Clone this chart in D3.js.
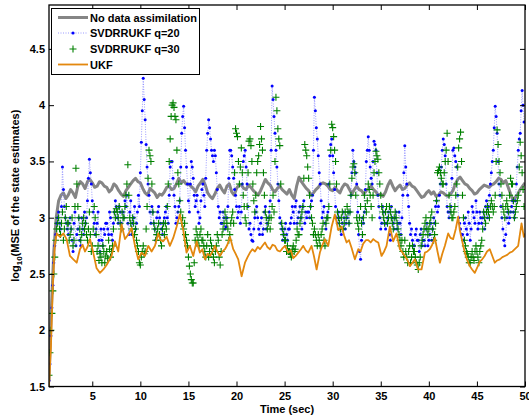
<!DOCTYPE html>
<html>
<head>
<meta charset="utf-8">
<script src="https://cdn.jsdelivr.net/npm/d3@7"></script>
<style>
  body { margin: 0; background: #fff; }
  svg { display: block; font-family: "Liberation Sans", Arial, sans-serif; font-weight: bold; }
</style>
</head>
<body>
<svg id="chart" width="529" height="417"></svg>
<script>
// values
var xTicks = [5, 10, 15, 20, 25, 30, 35, 40, 45, 50];
var yTicks = [1.5, 2, 2.5, 3, 3.5, 4, 4.5];
var seriesNames = ["No data assimilation", "SVDRRUKF q=20", "SVDRRUKF q=30", "UKF"];

// no data assimilation, every 0.25 s from t=0.5
var noAssim = [
  1.55, 2.2, 2.7, 3.0, 3.15, 3.2, 3.22, 3.17, 3.2, 3.25, 3.22, 3.18, 3.28, 3.32, 3.3, 3.26,
  3.32, 3.34, 3.31, 3.27, 3.28, 3.32, 3.31, 3.28, 3.27, 3.23, 3.25, 3.3, 3.28, 3.24, 3.21, 3.19,
  3.24, 3.27, 3.3, 3.33, 3.35, 3.32, 3.31, 3.26, 3.22, 3.2, 3.26, 3.24, 3.22, 3.18, 3.21, 3.2,
  3.23, 3.27, 3.28, 3.25, 3.26, 3.3, 3.35, 3.31, 3.33, 3.3, 3.3, 3.28, 3.26, 3.23, 3.28, 3.31,
  3.34, 3.29, 3.22, 3.19, 3.17, 3.21, 3.26, 3.29, 3.25, 3.22, 3.28, 3.3, 3.23, 3.2, 3.26, 3.29,
  3.29, 3.26, 3.25, 3.29, 3.27, 3.24, 3.22, 3.2, 3.24, 3.29, 3.34, 3.31, 3.29, 3.25, 3.23, 3.26,
  3.28, 3.25, 3.23, 3.21, 3.25, 3.2, 3.17, 3.28, 3.36, 3.32, 3.29, 3.26, 3.24, 3.2, 3.22, 3.25,
  3.27, 3.3, 3.31, 3.3, 3.28, 3.25, 3.24, 3.27, 3.24, 3.22, 3.27, 3.3, 3.29, 3.25, 3.21, 3.25,
  3.28, 3.25, 3.24, 3.21, 3.24, 3.26, 3.28, 3.25, 3.23, 3.2, 3.21, 3.19, 3.23, 3.29, 3.33, 3.28,
  3.24, 3.27, 3.29, 3.25, 3.26, 3.29, 3.31, 3.28, 3.27, 3.24, 3.21, 3.18, 3.19, 3.22, 3.24, 3.21,
  3.23, 3.19, 3.2, 3.23, 3.22, 3.2, 3.19, 3.21, 3.24, 3.3, 3.34, 3.36, 3.33, 3.3, 3.29, 3.26,
  3.24, 3.21, 3.22, 3.25, 3.27, 3.29, 3.28, 3.27, 3.29, 3.3, 3.32, 3.35, 3.34, 3.31, 3.33, 3.27,
  3.21, 3.16, 3.18, 3.21, 3.25, 3.28, 3.31
];

// SVDRRUKF q=20, every 0.1 s from t=0.5
var q20 = [
  1.55, 1.7, 1.95, 2.2, 2.4, 2.6, 2.75, 2.85, 2.95, 3.0,
  3.05, 2.95, 2.9, 3.1, 3.45, 3.25, 3.1, 3.0, 2.95, 2.9,
  2.85, 2.95, 3.0, 2.9, 2.8, 2.7, 2.95, 3.05, 2.75, 2.85,
  2.9, 3.0, 2.8, 2.75, 3.0, 2.9, 2.85, 3.05, 2.95, 3.0,
  3.15, 3.35, 3.52, 3.4, 3.3, 3.15, 3.05, 2.95, 2.85, 2.9,
  2.95, 3.05, 2.8, 2.7, 2.9, 2.8, 2.75, 2.9, 2.85, 2.95,
  2.95, 2.9, 2.85, 3.05, 3.0, 2.85, 2.8, 2.95, 3.05, 3.15,
  3.1, 3.0, 2.95, 3.1, 3.05, 2.95, 2.9, 3.05, 3.0, 3.15,
  3.1, 3.2, 2.95, 2.85, 3.05, 3.15, 2.85, 2.95, 3.0, 3.1,
  2.9, 2.95, 3.05, 3.2, 3.1, 3.4, 3.67, 3.95, 4.24, 4.05,
  3.87, 3.65, 3.45, 3.3, 3.2, 3.05, 2.95, 3.1, 3.05, 2.95,
  2.9, 2.8, 3.0, 3.05, 3.1, 3.0, 2.95, 2.9, 2.85, 2.95,
  3.0, 3.05, 3.1, 3.0, 2.95, 3.2, 3.45, 3.5, 3.5, 3.35,
  3.2, 3.1, 2.95, 3.0, 3.05, 3.1, 3.15, 3.45, 3.75, 3.9,
  3.99, 3.8, 3.6, 3.45, 3.3, 3.15, 3.05, 3.3, 3.5, 3.45,
  3.35, 3.2, 3.1, 3.15, 3.2, 3.05, 2.95, 3.0, 3.15, 3.25,
  3.3, 3.2, 3.1, 3.35, 3.6, 3.75, 3.87, 3.8, 3.7, 3.6,
  3.55, 3.5, 3.6, 3.55, 3.4, 3.25, 3.1, 3.0, 3.05, 2.95,
  2.95, 3.05, 3.0, 2.9, 2.92, 3.0, 3.1, 3.35, 3.6, 3.6,
  3.55, 3.45, 3.35, 3.25, 3.2, 3.1, 3.0, 3.05, 3.1, 2.95,
  3.05, 3.3, 3.5, 3.55, 3.6, 3.45, 3.3, 3.1, 2.9, 2.95,
  2.85, 2.8, 2.79, 2.9, 3.0, 3.05, 3.1, 3.0, 2.9, 2.85,
  2.95, 3.0, 2.85, 2.9, 3.05, 3.1, 2.9, 2.95, 3.0, 3.05,
  3.15, 3.6, 4.17, 4.05, 3.9, 3.75, 3.6, 3.45, 3.3, 3.15,
  3.0, 2.95, 2.9, 2.8, 2.85, 2.9, 2.95, 2.85, 2.8, 2.9,
  2.9, 2.95, 3.0, 3.1, 3.05, 2.95, 3.1, 3.15, 2.95, 3.0,
  3.05, 3.1, 3.0, 2.9, 3.1, 3.15, 2.95, 3.05, 3.0, 3.05,
  3.05, 3.0, 3.1, 3.15, 3.2, 3.6, 4.07, 3.95, 3.8, 3.7,
  3.55, 3.4, 3.3, 3.15, 3.0, 3.05, 3.1, 2.95, 2.9, 3.0,
  3.05, 3.3, 3.55, 3.65, 3.7, 3.55, 3.4, 3.25, 3.1, 3.0,
  2.95, 3.05, 3.0, 2.9, 2.85, 2.95, 3.05, 3.0, 2.9, 2.95,
  3.0, 3.05, 2.95, 3.05, 3.2, 3.4, 3.6, 3.5, 3.45, 3.4,
  3.3, 3.05, 2.85, 2.7, 2.63, 2.8, 3.0, 2.95, 3.05, 3.25,
  3.5, 3.6, 3.72, 3.6, 3.45, 3.35, 3.3, 3.5, 3.68, 3.65,
  3.6, 3.4, 3.2, 3.1, 3.0, 2.9, 2.95, 3.1, 3.05, 2.95,
  2.9, 2.95, 3.0, 3.05, 2.85, 2.8, 3.1, 3.0, 2.95, 2.9,
  3.0, 3.05, 2.9, 2.95, 3.05, 2.95, 2.85, 3.0, 3.2, 3.4,
  3.64, 3.45, 3.3, 3.2, 3.1, 2.95, 2.85, 2.9, 2.8, 2.75,
  2.75, 2.85, 2.9, 2.8, 2.8, 2.7, 2.85, 2.9, 2.75, 2.8,
  2.8, 2.75, 2.9, 2.95, 2.75, 2.8, 2.85, 2.95, 2.8, 2.9,
  3.0, 2.95, 3.1, 3.15, 3.05, 3.1, 3.2, 3.3, 3.45, 3.6,
  3.7, 3.65, 3.55, 3.3, 3.1, 3.05, 3.0, 3.05, 3.1, 3.35,
  3.6, 3.62, 3.55, 3.5, 3.45, 3.2, 3.0, 2.95, 2.9, 2.85,
  2.85, 2.8, 2.95, 3.0, 2.9, 2.85, 3.05, 2.95, 2.8, 2.9,
  3.1, 3.05, 3.0, 2.95, 3.15, 3.05, 2.9, 2.95, 3.05, 3.0,
  2.95, 3.0, 3.05, 2.9, 3.1, 3.15, 3.0, 3.1, 3.2, 3.3,
  3.4, 3.5, 3.6, 3.8, 3.99, 3.9, 3.75, 3.5, 3.3, 3.2,
  3.1, 3.0, 2.9, 2.8, 2.75, 2.85, 3.0, 3.05, 2.95, 3.0,
  3.05, 3.1, 3.15, 3.05, 3.0, 3.15, 3.3, 3.45, 3.6, 3.7,
  3.75, 3.95, 4.13, 4.0, 3.85
];

// SVDRRUKF q=30, every 0.1 s from t=0.5
var q30 = [
  1.6, 1.8, 2.0, 2.15, 2.35, 2.5, 2.65, 2.8, 2.9, 2.95,
  3.0, 2.9, 2.85, 2.95, 3.05, 2.8, 2.9, 3.0, 3.1, 2.95,
  2.95, 2.8, 2.85, 2.9, 3.0, 2.75, 2.8, 3.1, 3.44, 3.3,
  3.1, 3.0, 2.9, 2.8, 2.85, 2.95, 3.0, 2.9, 2.95, 2.85,
  2.8, 2.9, 3.05, 2.85, 2.7, 2.75, 2.9, 3.1, 3.0, 2.85,
  2.7, 2.75, 2.62, 2.68, 2.65, 2.6, 2.75, 2.7, 2.6, 2.66,
  2.7, 2.64, 2.8, 2.72, 2.65, 2.7, 2.75, 2.9, 3.05, 3.0,
  3.08, 3.05, 3.0, 3.1, 2.95, 2.9, 3.05, 3.0, 3.0, 3.1,
  3.2, 3.3, 3.47, 3.2, 3.0, 2.95, 2.9, 3.0, 2.95, 2.85,
  2.9, 2.8, 2.75, 2.7, 2.6, 2.58, 2.65, 2.7, 2.75, 2.68,
  2.7, 2.9, 3.1, 3.35, 3.6, 3.55, 3.5, 3.3, 3.05, 2.95,
  2.9, 2.8, 2.85, 2.9, 2.95, 2.85, 2.8, 2.75, 2.9, 2.95,
  2.85, 2.95, 2.9, 3.1, 3.3, 3.5, 3.7, 3.9, 4.0, 4.02,
  3.98, 3.9, 3.87, 3.6, 3.4, 3.3, 3.15, 3.05, 2.95, 3.0,
  2.9, 2.95, 2.85, 2.8, 2.75, 2.65, 2.57, 2.5, 2.45, 2.42,
  2.42, 2.6, 2.8, 2.9, 2.85, 2.8, 2.75, 2.85, 2.9, 2.8,
  2.8, 2.75, 2.7, 2.65, 2.75, 2.85, 2.65, 2.7, 2.8, 2.75,
  2.7, 2.65, 2.6, 2.7, 2.75, 2.85, 2.8, 2.65, 2.58, 2.7,
  2.85, 2.9, 2.95, 3.05, 3.0, 2.95, 2.9, 2.8, 2.85, 2.95,
  3.0, 3.05, 2.95, 3.4, 3.79, 3.75, 3.72, 3.5, 3.3, 3.45,
  3.62, 3.4, 3.2, 3.1, 3.0, 2.95, 3.1, 3.4, 3.68, 3.7,
  3.64, 3.5, 3.3, 3.15, 3.05, 3.2, 3.4, 3.5, 3.55, 3.65,
  3.81, 3.7, 3.6, 3.4, 3.2, 3.05, 3.0, 2.9, 2.95, 3.0,
  2.9, 3.0, 3.1, 3.2, 3.05, 3.5, 4.07, 3.95, 3.79, 3.7,
  3.64, 3.3, 2.95, 2.9, 2.85, 2.8, 2.8, 2.7, 2.75, 2.7,
  2.7, 2.68, 2.65, 2.72, 2.75, 2.7, 2.72, 2.8, 2.9, 2.85,
  2.85, 2.95, 3.0, 3.05, 3.1, 3.35, 3.65, 3.6, 3.55, 3.45,
  3.35, 3.2, 3.1, 3.0, 2.95, 2.85, 2.9, 2.85, 2.8, 2.75,
  2.85, 2.8, 2.75, 2.85, 2.9, 2.95, 2.8, 2.75, 2.95, 3.0,
  3.0, 3.1, 3.3, 3.6, 3.83, 3.8, 3.72, 3.6, 3.5, 3.3,
  3.05, 3.0, 2.95, 2.9, 3.0, 3.05, 2.9, 2.95, 3.05, 3.0,
  3.1, 3.05, 2.95, 3.05, 3.2, 3.35, 3.45, 3.48, 3.4, 3.2,
  3.0, 2.95, 2.9, 3.0, 3.1, 2.95, 2.85, 3.0, 3.2, 3.1,
  3.05, 3.15, 3.3, 3.25, 3.2, 3.1, 3.0, 3.2, 3.4, 3.5,
  3.59, 3.55, 3.52, 3.4, 3.3, 3.2, 3.1, 3.05, 3.0, 2.95,
  3.05, 3.1, 2.95, 3.0, 3.1, 3.05, 3.0, 2.95, 2.9, 3.0,
  3.05, 3.0, 2.95, 2.9, 2.85, 2.8, 2.75, 2.8, 2.7, 2.65,
  2.8, 2.7, 2.65, 2.6, 2.7, 2.75, 2.6, 2.65, 2.75, 2.7,
  2.7, 2.65, 2.6, 2.58, 2.54, 2.6, 2.65, 2.75, 2.8, 2.85,
  2.9, 2.95, 3.0, 2.9, 2.85, 2.9, 2.95, 3.0, 3.05, 2.9,
  2.8, 2.85, 2.95, 3.15, 3.4, 3.42, 3.45, 3.4, 3.35, 3.3,
  3.3, 3.4, 3.5, 3.6, 3.75, 3.5, 3.2, 3.1, 3.05, 3.0,
  3.0, 3.05, 3.1, 3.2, 3.3, 3.45, 3.62, 3.7, 3.76, 3.5,
  3.2, 3.0, 2.8, 2.75, 2.7, 2.68, 2.65, 2.6, 2.6, 2.65,
  2.7, 2.65, 2.62, 2.7, 2.75, 2.7, 2.65, 2.6, 2.7, 2.75,
  2.8, 2.9, 3.05, 3.0, 2.95, 3.05, 3.1, 3.05, 3.0, 3.1,
  3.15, 3.1, 3.05, 3.1, 3.2, 3.5, 3.78, 3.65, 3.5, 3.4,
  3.3, 3.2, 3.1, 3.05, 3.0, 3.1, 3.15, 3.1, 3.05, 3.2,
  3.35, 3.3, 3.3, 3.15, 3.0, 3.05, 3.1, 3.15, 3.2, 3.45,
  3.67, 3.55, 3.4, 3.25, 3.1
];

// UKF, [time, value]
var ukf = [
  [0.5, 1.5], [0.7, 1.85], [0.9, 2.4], [1.1, 2.75], [1.3, 2.86], [1.64, 2.83], [2.0, 2.86],
  [2.33, 2.81], [2.68, 2.66], [3.03, 2.63], [3.38, 2.6], [3.72, 2.72], [4.0, 2.76], [4.24, 2.7],
  [4.5, 2.74], [4.76, 2.81], [5.1, 2.69], [5.45, 2.55], [5.8, 2.51], [6.15, 2.54], [6.49, 2.58],
  [6.75, 2.62], [7.0, 2.66], [7.36, 2.79], [7.7, 2.7], [8.05, 2.94], [8.4, 2.81], [8.74, 2.85],
  [9.09, 2.91], [9.44, 2.75], [9.78, 2.63], [10.13, 2.69], [10.48, 2.66], [10.82, 2.75],
  [11.17, 2.7], [11.52, 2.75], [11.86, 2.86], [12.1, 2.8], [12.38, 2.79], [12.73, 2.83],
  [13.07, 2.75], [13.42, 2.82], [13.77, 2.92], [14.11, 3.03], [14.46, 2.89], [14.8, 2.69],
  [15.15, 2.75], [15.5, 2.66], [15.85, 2.79], [16.19, 2.69], [16.45, 2.72], [16.72, 2.63],
  [17.0, 2.68], [17.24, 2.66], [17.5, 2.7], [17.76, 2.75], [18.0, 2.7], [18.28, 2.66],
  [18.55, 2.7], [18.8, 2.72], [19.05, 2.76], [19.32, 2.83], [19.66, 2.72], [19.9, 2.68],
  [20.18, 2.63], [20.53, 2.48], [20.88, 2.6], [21.15, 2.65], [21.4, 2.69], [21.65, 2.72],
  [21.92, 2.7], [22.2, 2.74], [22.44, 2.72], [22.7, 2.75], [22.96, 2.78], [23.2, 2.74],
  [23.48, 2.72], [23.75, 2.76], [24.0, 2.75], [24.25, 2.71], [24.52, 2.7], [24.8, 2.73],
  [25.04, 2.75], [25.38, 2.69], [25.65, 2.71], [25.9, 2.64], [26.15, 2.66], [26.42, 2.69],
  [26.7, 2.72], [26.94, 2.75], [27.2, 2.71], [27.46, 2.69], [27.8, 2.75], [28.05, 2.66],
  [28.33, 2.54], [28.67, 2.69], [28.95, 2.76], [29.19, 2.81], [29.54, 2.75], [29.89, 2.92],
  [30.23, 3.03], [30.58, 2.89], [30.93, 2.92], [31.2, 2.84], [31.45, 2.78], [31.7, 2.8],
  [31.97, 2.73], [32.31, 2.63], [32.66, 2.72], [32.9, 2.7], [33.18, 2.77], [33.45, 2.8],
  [33.7, 2.8], [33.95, 2.78], [34.22, 2.81], [34.5, 2.79], [34.74, 2.78], [35.08, 2.66],
  [35.35, 2.7], [35.6, 2.75], [35.95, 2.92], [36.29, 2.79], [36.64, 2.86], [36.99, 2.72],
  [37.25, 2.69], [37.51, 2.66], [37.8, 2.62], [38.03, 2.57], [38.3, 2.6], [38.55, 2.63],
  [38.89, 2.54], [39.24, 2.54], [39.59, 2.69], [39.85, 2.7], [40.1, 2.72], [40.35, 2.76],
  [40.63, 2.82], [40.9, 2.7], [41.15, 2.6], [41.4, 2.68], [41.67, 2.75], [42.01, 2.86],
  [42.25, 2.82], [42.53, 2.81], [42.8, 2.9], [43.05, 3.01], [43.22, 2.89], [43.5, 2.78],
  [43.74, 2.69], [44.0, 2.62], [44.26, 2.57], [44.5, 2.54], [44.78, 2.51], [45.05, 2.56],
  [45.3, 2.61], [45.55, 2.63], [45.8, 2.66], [46.05, 2.7], [46.34, 2.72], [46.6, 2.66],
  [46.86, 2.6], [47.1, 2.62], [47.38, 2.63], [47.65, 2.65], [47.9, 2.66], [48.15, 2.67],
  [48.42, 2.69], [48.7, 2.7], [48.94, 2.72], [49.29, 2.75], [49.64, 2.95], [49.88, 2.83],
  [50.0, 2.86]
];

var plot = { left: 49, right: 525, top: 5, bottom: 386.5 };

var svg = d3.select("#chart");
var x = d3.scaleLinear().domain([0.5, 50]).range([plot.left, plot.right]);
var y = d3.scaleLinear().domain([1.5, 4.89]).range([plot.bottom, plot.top]);

var greyPts = noAssim.map(function(v, i) { return [0.5 + 0.25 * i, v]; });
var q20Pts = q20.map(function(v, i) { return [0.5 + 0.1 * i, v]; });
var q30Pts = q30.map(function(v, i) { return [0.5 + 0.1 * i, v]; });

var line = d3.line().x(function(d) { return x(d[0]); }).y(function(d) { return y(d[1]); });

svg.append("defs").append("clipPath").attr("id", "clip")
  .append("rect")
  .attr("x", plot.left).attr("y", plot.top)
  .attr("width", plot.right - plot.left).attr("height", plot.bottom - plot.top);

var g = svg.append("g").attr("clip-path", "url(#clip)");

// no data assimilation
g.append("path").datum(greyPts)
  .attr("d", line)
  .attr("fill", "none").attr("stroke", "#858585").attr("stroke-width", 3)
  .attr("stroke-linejoin", "round");

// q=20: dotted line + dots
g.append("path").datum(q20Pts)
  .attr("d", line)
  .attr("fill", "none").attr("stroke", "#8080ff").attr("stroke-width", 0.8)
  .attr("stroke-dasharray", "1,1.5");
g.selectAll(".dot").data(q20Pts).enter().append("circle")
  .attr("class", "dot")
  .attr("cx", function(d) { return x(d[0]); })
  .attr("cy", function(d) { return y(d[1]); })
  .attr("r", 1.5).attr("fill", "#0000ff");

// q=30: plus markers
var plus = "M-3.5,0H3.5M0,-3.5V3.5";
g.selectAll(".plus").data(q30Pts).enter().append("path")
  .attr("class", "plus")
  .attr("transform", function(d) { return "translate(" + x(d[0]) + "," + y(d[1]) + ")"; })
  .attr("d", plus)
  .attr("stroke", "#008000").attr("stroke-width", 1.1).attr("fill", "none");

// UKF
g.append("path").datum(ukf)
  .attr("d", line)
  .attr("fill", "none").attr("stroke", "#e3880e").attr("stroke-width", 1.8)
  .attr("stroke-linejoin", "round");

// axes
var fmt = function(d) { return String(d); };
var axB = svg.append("g").attr("transform", "translate(0," + plot.bottom + ")")
  .call(d3.axisBottom(x).tickValues(xTicks).tickFormat(fmt).tickSizeInner(-5).tickSizeOuter(0).tickPadding(6));
var axL = svg.append("g").attr("transform", "translate(" + plot.left + ",0)")
  .call(d3.axisLeft(y).tickValues(yTicks).tickFormat(fmt).tickSizeInner(-5).tickSizeOuter(0).tickPadding(4));
var axT = svg.append("g").attr("transform", "translate(0," + plot.top + ")")
  .call(d3.axisTop(x).tickValues(xTicks).tickFormat("").tickSizeInner(-5).tickSizeOuter(0));
var axR = svg.append("g").attr("transform", "translate(" + plot.right + ",0)")
  .call(d3.axisRight(y).tickValues(yTicks).tickFormat("").tickSizeInner(-5).tickSizeOuter(0));

[axB, axL, axT, axR].forEach(function(a) {
  a.selectAll(".domain").remove();
  a.selectAll("line").attr("stroke", "#000").attr("stroke-width", 1);
  a.selectAll("text").attr("fill", "#000")
    .style("font-family", "'Liberation Sans', Arial, sans-serif")
    .style("font-weight", "bold").style("font-size", "11px");
});

svg.append("rect")
  .attr("x", plot.left).attr("y", plot.top)
  .attr("width", plot.right - plot.left).attr("height", plot.bottom - plot.top)
  .attr("fill", "none").attr("stroke", "#000").attr("stroke-width", 1.3);

// axis labels
svg.append("text")
  .attr("x", (plot.left + plot.right) / 2).attr("y", 413)
  .attr("text-anchor", "middle").style("font-size", "11px")
  .text("Time (sec)");

var yl = svg.append("text")
  .attr("transform", "translate(19," + ((plot.top + plot.bottom) / 2) + ") rotate(-90)")
  .attr("text-anchor", "middle").style("font-size", "11px");
yl.append("tspan").text("log");
yl.append("tspan").attr("dy", 3).style("font-size", "8px").text("10");
yl.append("tspan").attr("dy", -3).text("(MSE of the state estimates)");

// legend
var lg = svg.append("g");
lg.append("rect").attr("x", 51.5).attr("y", 8.5).attr("width", 148).attr("height", 66)
  .attr("fill", "#fff").attr("stroke", "#000").attr("stroke-width", 1);
var rowY = [17.5, 33, 49, 64.5];
var sx0 = 58, sx1 = 88;
lg.append("line").attr("x1", sx0).attr("x2", sx1).attr("y1", rowY[0]).attr("y2", rowY[0])
  .attr("stroke", "#858585").attr("stroke-width", 3);
lg.append("line").attr("x1", sx0).attr("x2", sx1).attr("y1", rowY[1]).attr("y2", rowY[1])
  .attr("stroke", "#8080ff").attr("stroke-width", 0.8).attr("stroke-dasharray", "1,1.5");
lg.append("circle").attr("cx", (sx0 + sx1) / 2).attr("cy", rowY[1]).attr("r", 1.6).attr("fill", "#0000ff");
lg.append("path").attr("transform", "translate(" + ((sx0 + sx1) / 2) + "," + rowY[2] + ")")
  .attr("d", plus).attr("stroke", "#008000").attr("stroke-width", 1.1);
lg.append("line").attr("x1", sx0).attr("x2", sx1).attr("y1", rowY[3]).attr("y2", rowY[3])
  .attr("stroke", "#e3880e").attr("stroke-width", 1.8);
lg.selectAll(".lt").data(seriesNames).enter().append("text")
  .attr("class", "lt")
  .attr("x", 90).attr("y", function(d, i) { return rowY[i] + 4; })
  .style("font-size", "11px")
  .text(function(d) { return d; });
</script>
</body>
</html>
